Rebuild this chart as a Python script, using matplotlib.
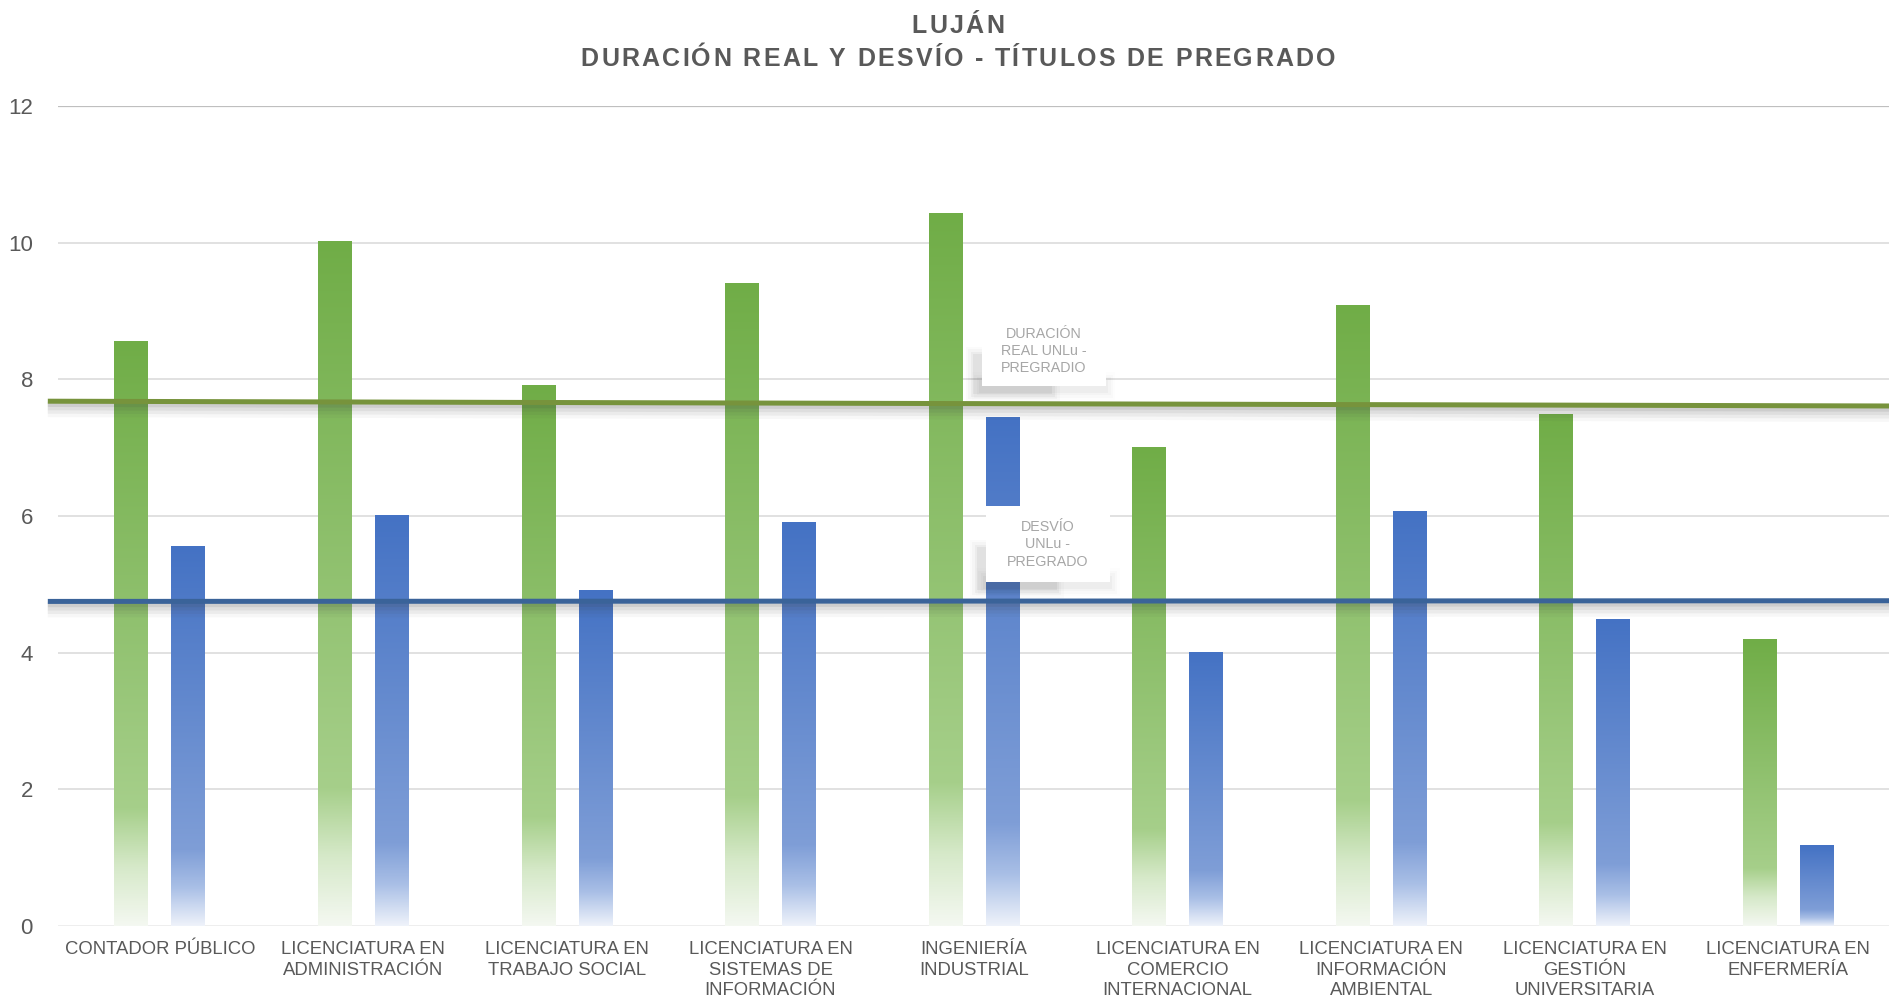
import numpy as np
import matplotlib
matplotlib.use('Agg')
import matplotlib.pyplot as plt
from matplotlib import font_manager, transforms
from matplotlib.colors import LinearSegmentedColormap
from matplotlib.patches import Rectangle

carreras = ['CONTADOR PÚBLICO', 'LICENCIATURA EN\nADMINISTRACIÓN',
            'LICENCIATURA EN\nTRABAJO SOCIAL', 'LICENCIATURA EN\nSISTEMAS DE\nINFORMACIÓN',
            'INGENIERÍA\nINDUSTRIAL', 'LICENCIATURA EN\nCOMERCIO\nINTERNACIONAL',
            'LICENCIATURA EN\nINFORMACIÓN\nAMBIENTAL', 'LICENCIATURA EN\nGESTIÓN\nUNIVERSITARIA',
            'LICENCIATURA EN\nENFERMERÍA']
duracion_real = [8.56, 10.02, 7.91, 9.41, 10.43, 7.01, 9.09, 7.50, 4.20]
desvio = [5.56, 6.02, 4.91, 5.91, 7.45, 4.01, 6.07, 4.50, 1.18]
# lineas de referencia UNLu (inicio, fin)
duracion_unlu = [7.68, 7.61]
desvio_unlu = [4.75, 4.76]
yticks = [0, 2, 4, 6, 8, 10, 12]
titulo = ['LUJÁN', 'DURACIÓN REAL Y DESVÍO - TÍTULOS DE PREGRADO']

names = {f.name for f in font_manager.fontManager.ttflist}
regular = 'Liberation Sans' if 'Liberation Sans' in names else 'DejaVu Sans'

fig = plt.figure(figsize=(18.9, 10), dpi=100)
ax = fig.add_axes([58 / 1890, 0.074, 1 - 58 / 1890, 0.82])
ax.set_xlim(-0.5, 8.5)
ax.set_ylim(0, 12)
for s in ax.spines.values():
    s.set_visible(False)

# grid
for v in yticks:
    if v == 12:
        ax.axhline(v, color='#BFBFBF', lw=1.6, zorder=0)
    elif v == 0:
        ax.axhline(v, color='#EDEDED', lw=2, zorder=0)
    else:
        ax.axhline(v, color='#DCDCDC', lw=1.2, zorder=0)

x = np.arange(len(carreras))
w = 0.165
off = 0.14
green_cmap = LinearSegmentedColormap.from_list('g', [(0, '#F4F8F1'), (0.1, '#D6E9C9'),
                                                     (0.2, '#A6CF8A'), (1, '#70AD47')])
blue_cmap = LinearSegmentedColormap.from_list('b', [(0, '#EEF2FA'), (0.1, '#A9BFE6'),
                                                    (0.2, '#7F9ED7'), (1, '#4472C4')])
grad = np.linspace(0, 1, 256).reshape(-1, 1)

b1 = ax.bar(x - off, duracion_real, w, color='none', zorder=2)
b2 = ax.bar(x + off, desvio, w, color='none', zorder=2)
for bars, cmap in ((b1, green_cmap), (b2, blue_cmap)):
    for b in bars:
        x0, y0 = b.get_x(), b.get_y()
        im = ax.imshow(grad, cmap=cmap, origin='lower', aspect='auto',
                       extent=[x0, x0 + b.get_width(), y0, y0 + b.get_height()], zorder=2)
        im.set_clip_path(b)
ax.set_xlim(-0.5, 8.5)
ax.set_ylim(0, 12)

# lineas de referencia con sombra
xl = [-0.55, 8.5]
for vals, col in ((duracion_unlu, '#77933C'), (desvio_unlu, '#3A6399')):
    for i, a in enumerate([0.10, 0.08, 0.06, 0.04]):
        tr = transforms.offset_copy(ax.transData, fig=fig, x=0, y=-(3 + 2 * i), units='dots')
        ax.plot(xl, vals, color='#404040', lw=4 + 2 * i, alpha=a, transform=tr,
                clip_on=False, zorder=3, solid_capstyle='butt')
    ax.plot(xl, vals, color=col, lw=3.6, clip_on=False, zorder=4, solid_capstyle='butt')

# etiquetas de las lineas
def label_box(x0, y0, bw, bh, text):
    for i, a in enumerate([0.045, 0.035, 0.025, 0.015]):
        d = 0.012 * (i + 1)
        ax.add_patch(Rectangle((x0 - 0.03 - d, y0 - 0.08 - d * 3), bw * 0.6 + 2 * d, bh * 0.5 + 2 * d * 3,
                               fc='#000000', ec='none', alpha=a, zorder=5))
        ax.add_patch(Rectangle((x0 - d, y0 - 0.06 - d * 3), bw + 2 * d, 0.12 + 2 * d * 3,
                               fc='#000000', ec='none', alpha=a * 0.6, zorder=5))
    ax.add_patch(Rectangle((x0, y0), bw, bh, fc='white', ec='none', zorder=6))
    ax.text(x0 + bw / 2, y0 + bh / 2, text, ha='center', va='center', fontsize=10.3,
            color='#A6A6A6', family=regular, linespacing=1.3, zorder=7)

label_box(4.038, 7.90, 0.609, 1.03, 'DURACIÓN\nREAL UNLu -\nPREGRADIO')
label_box(4.058, 5.03, 0.609, 1.11, 'DESVÍO\nUNLu -\nPREGRADO')

ax.set_yticks(yticks)
ax.set_yticklabels([str(v) for v in yticks], fontsize=16, color='#595959', family=regular)
ax.set_xticks(x)
ax.set_xticklabels(carreras, fontsize=13.3, color='#595959', family=regular, linespacing=1.25,
                   va='top')
ax.tick_params(axis='y', length=0, pad=18)
ax.tick_params(axis='x', length=0, pad=11)

# titulo con espaciado entre letras
renderer = fig.canvas.get_renderer()
tkw = dict(fontsize=18, fontweight='bold', color='#595959', family=regular)

def char_w(ch):
    t1 = fig.text(0, 0, 'x' + ch + 'x', **tkw)
    t2 = fig.text(0, 0, 'xx', **tkw)
    wd = t1.get_window_extent(renderer).width - t2.get_window_extent(renderer).width
    t1.remove()
    t2.remove()
    return wd

def spaced(s, xc, yc, gap):
    ws = [char_w(c) for c in s]
    total = sum(ws) + gap * (len(s) - 1)
    xp = xc - total / 2
    for c, wd in zip(s, ws):
        fig.text(xp / 1890, yc / 1000, c, ha='left', va='center', **tkw)
        xp += wd + gap

spaced(titulo[0], 958, 1000 - 26, 2.3)
spaced(titulo[1], 958, 1000 - 59, 2.3)

fig.savefig('out.png', dpi=100, facecolor='white')
